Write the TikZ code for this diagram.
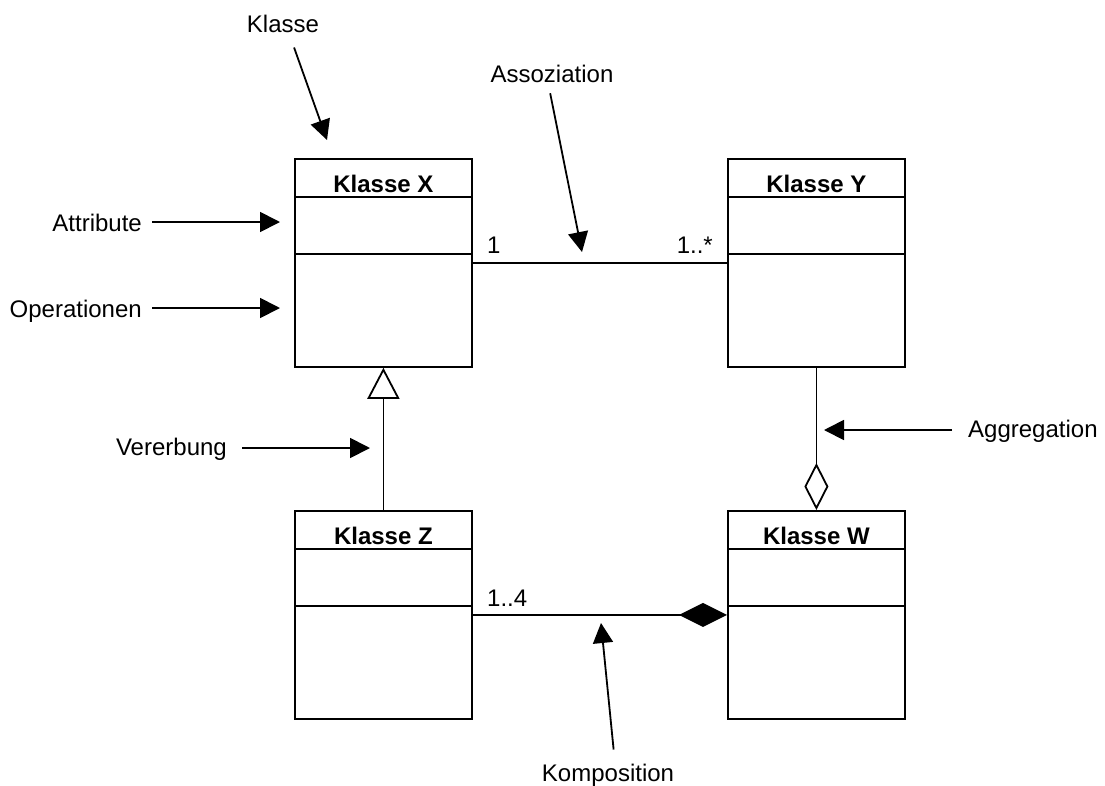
\documentclass[tikz,border=0pt]{standalone}
\usepackage{fontspec}
\setmainfont{Liberation Sans}
\usetikzlibrary{arrows.meta}

% UML class: name, left x, top y, title
\newcommand\umlclass[4]{%
  \node[classbox, anchor=north west] (#1) at (#2,#3) {};
  \draw[rel] ([yshift=-39pt]#1.north west) -- ([yshift=-39pt]#1.north east);
  \draw[rel] ([yshift=-96pt]#1.north west) -- ([yshift=-96pt]#1.north east);
  \node[classtitle] (#1-title) at ([yshift=-34pt]#1.north) {#4};
}

\begin{document}
\begin{tikzpicture}[x=1pt,y=-1pt,
  every node/.style={font=\fontsize{24}{28}\selectfont, inner sep=0pt},
  classbox/.style={draw, line width=1.8pt, minimum width=177pt, minimum height=208pt, fill=white},
  classtitle/.style={font=\fontsize{24}{28}\selectfont\bfseries, anchor=base},
  rel/.style={line width=1.8pt},
  note/.style={line width=1.8pt, -{Triangle[length=20pt,width=20pt]}},
]
\useasboundingbox (0,0) rectangle (1105,785);

% classes
\umlclass{X}{294}{158}{Klasse X}
\umlclass{Y}{727}{158}{Klasse Y}
\umlclass{Z}{294}{510}{Klasse Z}
\umlclass{W}{727}{510}{Klasse W}

% relations
\draw[rel] (X.east) -- (Y.west);
\draw[rel, -{Triangle[open, length=31pt, width=32pt]}] (Z.north) -- (X.south);
\draw[rel, {Diamond[open, length=47pt, width=24pt]}-] (W.north) -- (Y.south);
\draw[rel, -{Diamond[length=48pt, width=24pt]}] (Z.east) -- (W.west);

% multiplicities
\node[anchor=base west] (mX) at (487,253) {1};
\node[anchor=base east] (mY) at (713,253) {1..*};
\node[anchor=base west] (mZ) at (487,606) {1..4};

% explanatory labels
\node[anchor=base] (lblKlasse) at (283,32) {Klasse};
\coordinate (tipKlasse) at (327,140);
\draw[note, shorten <=16pt] ([xshift=5.7pt]lblKlasse.south) -- (tipKlasse);

\node[anchor=base] (lblAssoz) at (552,82) {Assoziation};
\coordinate (tipAssoz) at (582,252);
\draw[note, shorten <=11pt] ([xshift=-4pt]lblAssoz.south) -- (tipAssoz);

\node[anchor=base east] (lblAttr) at (142,231) {Attribute};
\coordinate (tipAttr) at (280,222);
\draw[note, shorten <=10pt] (lblAttr.east |- tipAttr) -- (tipAttr);

\node[anchor=base east] (lblOp) at (142,317) {Operationen};
\coordinate (tipOp) at (280,308);
\draw[note, shorten <=10pt] (lblOp.east |- tipOp) -- (tipOp);

\node[anchor=base east] (lblVer) at (227,455) {Vererbung};
\coordinate (tipVer) at (370,448);
\draw[note, shorten <=15pt] (lblVer.east |- tipVer) -- (tipVer);

\node[anchor=base west] (lblAgg) at (968,437) {Aggregation};
\coordinate (tipAgg) at (824,430);
\draw[note, shorten <=16pt] (lblAgg.west |- tipAgg) -- (tipAgg);

\node[anchor=base] (lblKomp) at (608,781) {Komposition};
\coordinate (tipKomp) at (601,623);
\draw[note, shorten <=14pt] ([xshift=7pt]lblKomp.north) -- (tipKomp);
\end{tikzpicture}
\end{document}
